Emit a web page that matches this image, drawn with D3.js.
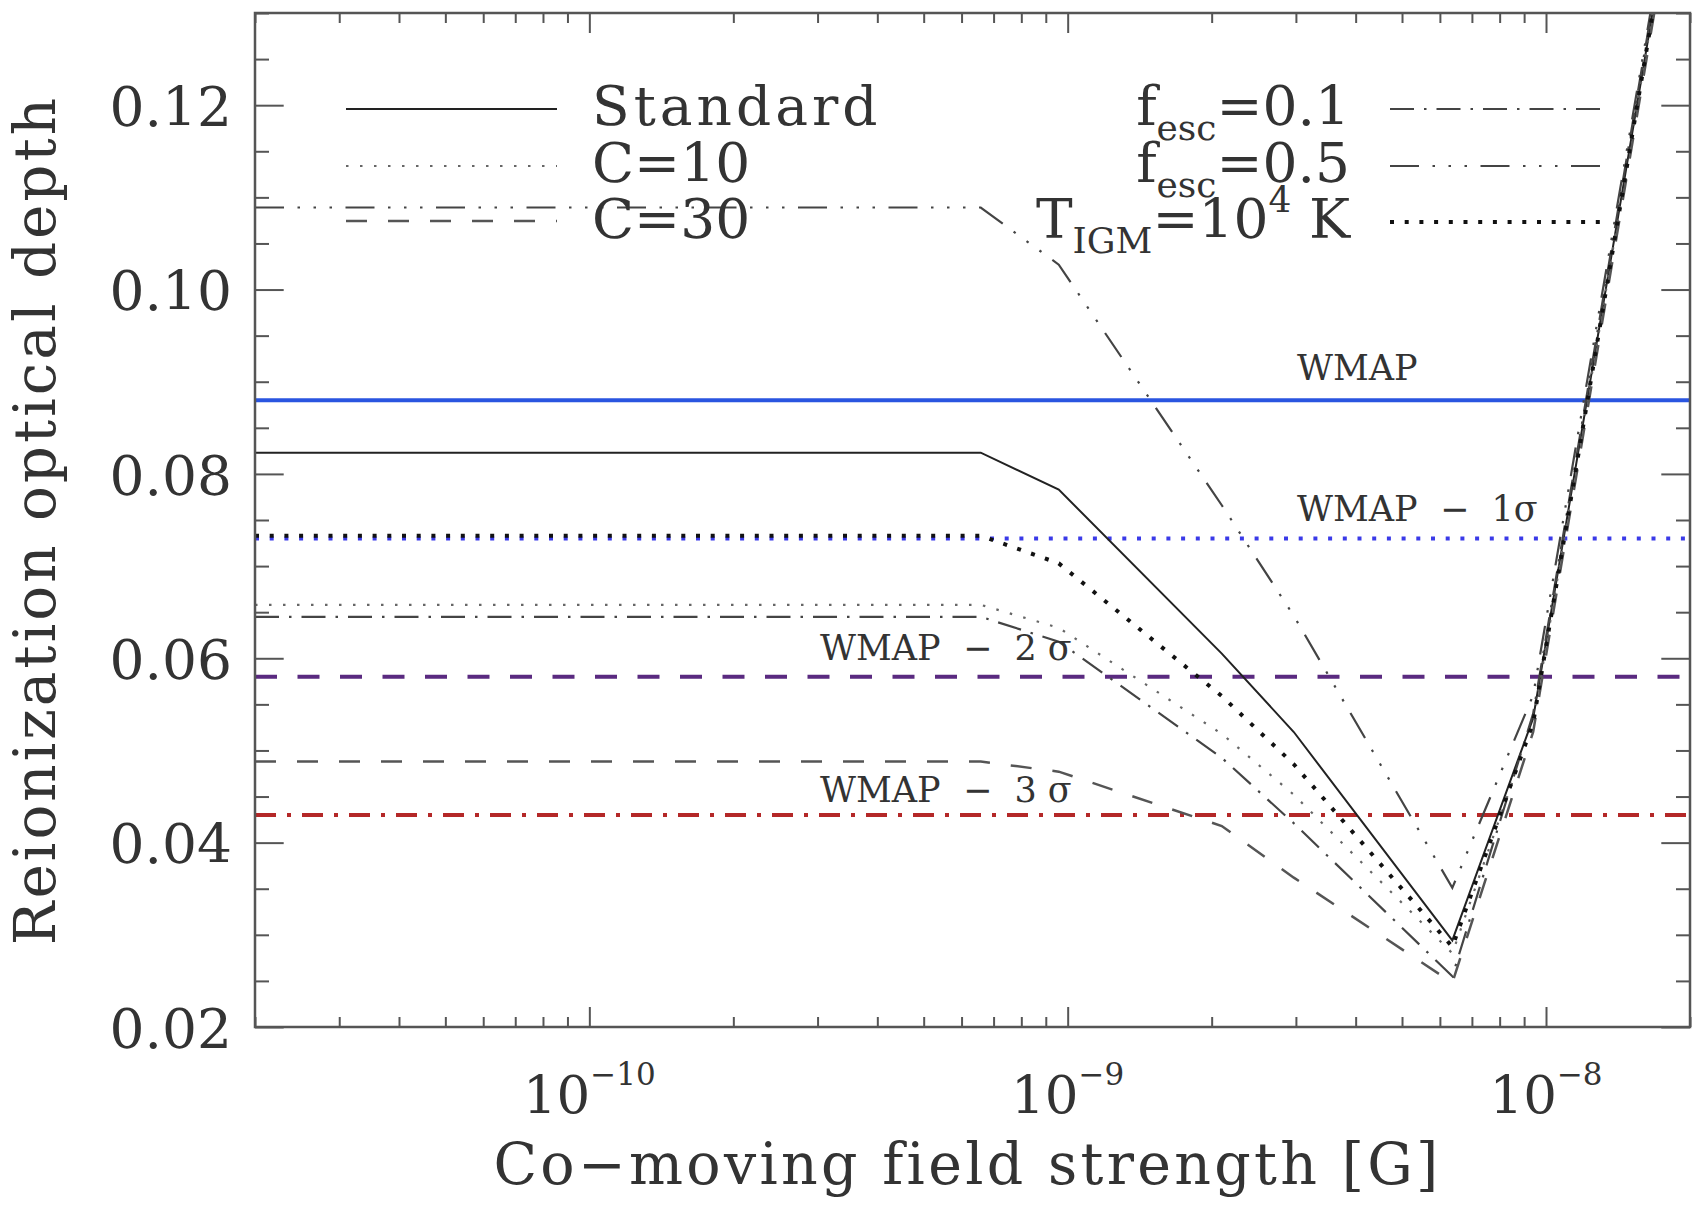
<!DOCTYPE html>
<html>
<head>
<meta charset="utf-8">
<script src="https://cdn.jsdelivr.net/npm/d3@7"></script>
<style>
  body { margin: 0; background: #fff; }
  svg text { font-family: "DejaVu Serif", serif; fill: #333; }
</style>
</head>
<body>
<div id="chart"></div>
<script>
// field strengths where the model curves bend (G)
const bField = [2e-11, 6.58e-10, 9.58e-10, 2.1e-9, 2.97e-9, 6.37e-9, 9.4e-9, 2e-8];

// reionization optical depth for each model, read at the bField points
const tauStandard = [0.0823, 0.0823, 0.0783, 0.0605, 0.0520, 0.0294, 0.0535, 0.154];
const tauC10      = [0.0658, 0.0658, 0.0633, 0.0518, 0.0452, 0.0280, 0.0530, 0.154];
const tauC30      = [0.0488, 0.0488, 0.0477, 0.0418, 0.0362, 0.0248, 0.0520, 0.153];
const tauFesc01   = [0.0645, 0.0645, 0.0618, 0.0492, 0.0421, 0.0255, 0.0540, 0.155];
const tauFesc05   = [0.1089, 0.1089, 0.1027, 0.0766, 0.0646, 0.0351, 0.0560, 0.155];
const tauTigm     = [0.0733, 0.0733, 0.0703, 0.0559, 0.0485, 0.0287, 0.0530, 0.154];

// WMAP constraint and its 1-3 sigma lower bounds
const wmapLevels = [0.088, 0.073, 0.058, 0.043];
const wmapLabels = ["WMAP", "WMAP  −  1σ", "WMAP  −  2 σ", "WMAP  −  3 σ"];

const yTickValues = [0.02, 0.04, 0.06, 0.08, 0.10, 0.12];
const xTickValues = [1e-10, 1e-9, 1e-8];
const xTickExponents = ["−10", "−9", "−8"];

const width = 1695, height = 1210;
const margin = { top: 13, right: 5, bottom: 183, left: 255 };
const x0 = margin.left, x1 = width - margin.right;
const y0 = height - margin.bottom, y1 = margin.top;

const svg = d3.select("#chart").append("svg")
  .attr("width", width)
  .attr("height", height)
  .style("background", "#fff");

const x = d3.scaleLog().domain([2e-11, 2e-8]).range([x0, x1]);
const y = d3.scaleLinear().domain([0.02, 0.13]).range([y0, y1]);

svg.append("clipPath").attr("id", "plot-clip")
  .append("rect")
  .attr("x", x0).attr("y", y1)
  .attr("width", x1 - x0).attr("height", y0 - y1);

const plot = svg.append("g").attr("clip-path", "url(#plot-clip)");

// horizontal WMAP lines
const wmapStyles = [
  { color: "#2a55e0", width: 4, dash: null },
  { color: "#3a3ae8", width: 4, dash: "4,10.7" },
  { color: "#5a2a80", width: 4, dash: "22,20.5" },
  { color: "#b42828", width: 4, dash: "21,11,4,11" }
];

wmapLevels.forEach((v, i) => {
  plot.append("line")
    .attr("x1", x0).attr("x2", x1)
    .attr("y1", y(v)).attr("y2", y(v))
    .attr("stroke", wmapStyles[i].color)
    .attr("stroke-width", wmapStyles[i].width)
    .attr("stroke-dasharray", wmapStyles[i].dash);
});

const labelPos = [
  { x: 1297, dy: -20 },
  { x: 1297, dy: -17 },
  { x: 820, dy: -17 },
  { x: 820, dy: -13 }
];
wmapLabels.forEach((t, i) => {
  svg.append("text")
    .attr("x", labelPos[i].x)
    .attr("y", y(wmapLevels[i]) + labelPos[i].dy)
    .style("font-size", "35px")
    .style("white-space", "pre")
    .text(t);
});

// model curves
const series = [
  { name: "Standard", values: tauStandard, color: "#222", width: 2, dash: null },
  { name: "C=10", values: tauC10, color: "#666", width: 2.2, dash: "2.5,11.5" },
  { name: "C=30", values: tauC30, color: "#555", width: 2.5, dash: "21,21" },
  { name: "fesc=0.1", values: tauFesc01, color: "#444", width: 2.2, dash: "24,10,2.5,10" },
  { name: "fesc=0.5", values: tauFesc05, color: "#444", width: 2.2, dash: "29,13.5,2.5,13.5,2.5,13.5,2.5,13.5" },
  { name: "TIGM", values: tauTigm, color: "#111", width: 4, dash: "4,10.7" }
];

const line = d3.line()
  .x(d => x(d[0]))
  .y(d => y(d[1]));

series.forEach(s => {
  plot.append("path")
    .datum(bField.map((b, i) => [b, s.values[i]]))
    .attr("fill", "none")
    .attr("stroke", s.color)
    .attr("stroke-width", s.width)
    .attr("stroke-dasharray", s.dash)
    .attr("d", line);
});

// axes with ticks on all four sides, pointing inwards
const axisColor = "#555";
const allX = x.ticks();
const minorX = allX.filter(d => !xTickValues.some(m => Math.abs(m - d) / m < 1e-6));
const minorY = y.ticks(22).filter(d => !yTickValues.some(m => Math.abs(m - d) < 1e-9));

function styleAxis(g) {
  g.select(".domain").remove();
  g.selectAll("line").attr("stroke", axisColor).attr("stroke-width", 2);
}

svg.append("g").attr("transform", `translate(0,${y0})`)
  .call(d3.axisBottom(x).tickValues(minorX).tickSize(-10).tickFormat(""))
  .call(styleAxis);
svg.append("g").attr("transform", `translate(0,${y0})`)
  .call(d3.axisBottom(x).tickValues(xTickValues).tickSize(-20).tickFormat(""))
  .call(styleAxis);
svg.append("g").attr("transform", `translate(0,${y1})`)
  .call(d3.axisTop(x).tickValues(minorX).tickSize(-10).tickFormat(""))
  .call(styleAxis);
svg.append("g").attr("transform", `translate(0,${y1})`)
  .call(d3.axisTop(x).tickValues(xTickValues).tickSize(-20).tickFormat(""))
  .call(styleAxis);

svg.append("g").attr("transform", `translate(${x0},0)`)
  .call(d3.axisLeft(y).tickValues(minorY).tickSize(-14).tickFormat(""))
  .call(styleAxis);
const yAxis = svg.append("g").attr("transform", `translate(${x0},0)`)
  .call(d3.axisLeft(y).tickValues(yTickValues).tickSize(-28.7).tickPadding(23).tickFormat(d3.format(".2f")))
  .call(styleAxis);
yAxis.selectAll("text")
  .attr("dy", "0.37em")
  .style("font-size", "55px")
  .style("font-family", "DejaVu Serif")
  .attr("fill", "#333");

svg.append("g").attr("transform", `translate(${x1},0)`)
  .call(d3.axisRight(y).tickValues(minorY).tickSize(-14).tickFormat(""))
  .call(styleAxis);
svg.append("g").attr("transform", `translate(${x1},0)`)
  .call(d3.axisRight(y).tickValues(yTickValues).tickSize(-28.7).tickFormat(""))
  .call(styleAxis);

svg.append("rect")
  .attr("x", x0).attr("y", y1)
  .attr("width", x1 - x0).attr("height", y0 - y1)
  .attr("fill", "none")
  .attr("stroke", axisColor)
  .attr("stroke-width", 2.5);

// x tick labels 10^n
xTickValues.forEach((v, i) => {
  const t = svg.append("text")
    .attr("x", x(v))
    .attr("y", 1113)
    .attr("text-anchor", "middle")
    .style("font-size", "53px");
  t.append("tspan").text("10");
  t.append("tspan").attr("dy", -28).style("font-size", "31px").text(xTickExponents[i]);
});

// axis titles
svg.append("text")
  .attr("x", (x0 + x1) / 2 - 5)
  .attr("y", 1184)
  .attr("text-anchor", "middle")
  .style("font-size", "57px")
  .style("letter-spacing", "3.3px")
  .text("Co−moving field strength [G]");

svg.append("text")
  .attr("transform", `translate(55,${(y0 + y1) / 2}) rotate(-90)`)
  .attr("text-anchor", "middle")
  .style("font-size", "58px")
  .style("letter-spacing", "3px")
  .text("Reionization optical depth");

// legend
const legendLeft = [
  { s: series[0], lineY: 109, baseY: 125, spacing: 4, parts: [["Standard"]] },
  { s: series[1], lineY: 166, baseY: 182, spacing: 0, parts: [["C=10"]] },
  { s: series[2], lineY: 221, baseY: 238, spacing: 0, parts: [["C=30"]] }
];
const legendRight = [
  { s: series[3], lineY: 109, baseY: 125, spacing: 0, parts: [["f"], ["esc", "sub"], ["=0.1"]] },
  { s: series[4], lineY: 166, baseY: 182, spacing: 0, parts: [["f"], ["esc", "sub"], ["=0.5"]] },
  { s: series[5], lineY: 222, baseY: 238, spacing: 0, parts: [["T"], ["IGM", "sub"], ["=10"], ["4", "sup"], [" K"]] }
];

function writeParts(t, parts) {
  let shift = 0;
  parts.forEach(([txt, kind]) => {
    const target = kind === "sub" ? 15 : kind === "sup" ? -26 : 0;
    t.append("tspan")
      .attr("dy", target - shift)
      .style("font-size", kind ? "36px" : "55px")
      .style("white-space", "pre")
      .text(txt);
    shift = target;
  });
}

function legendLine(item, xa, xb) {
  svg.append("line")
    .attr("x1", xa).attr("x2", xb)
    .attr("y1", item.lineY).attr("y2", item.lineY)
    .attr("stroke", item.s.color)
    .attr("stroke-width", item.s.width)
    .attr("stroke-dasharray", item.s.dash);
}

legendLeft.forEach(item => {
  legendLine(item, 346, 557);
  const t = svg.append("text").attr("x", 592).attr("y", item.baseY)
    .style("letter-spacing", item.spacing + "px");
  writeParts(t, item.parts);
});

legendRight.forEach(item => {
  legendLine(item, 1390, 1601);
  const t = svg.append("text").attr("x", 1350).attr("y", item.baseY).attr("text-anchor", "end");
  writeParts(t, item.parts);
});
</script>
</body>
</html>
